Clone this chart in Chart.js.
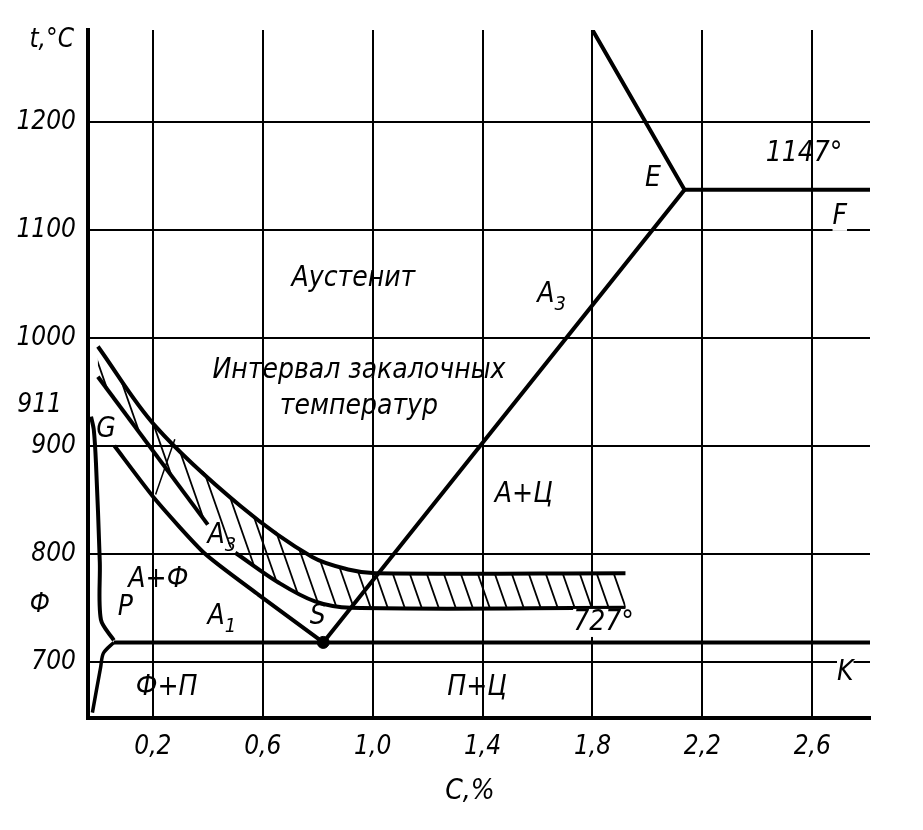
<!DOCTYPE html>
<html>
<head>
<meta charset="utf-8">
<script src="https://cdn.jsdelivr.net/npm/chart.js@4"></script>
<style>
  body { margin: 0; background: #fff; }
  canvas { display: block; }
</style>
</head>
<body>
<canvas id="feC" width="923" height="830"></canvas>
<script>
// Fe-C diagram, steel corner (carbon %, temperature °C)
const xTicks = [0.2, 0.6, 1.0, 1.4, 1.8, 2.2, 2.6];
const yTicks = [700, 800, 900, 1000, 1100, 1200];

// upper bound of quench interval
const upperC = [0, 0.21, 0.52, 0.78, 0.92, 1.01, 1.92];
const upperT = [992, 918, 844, 797, 785, 782, 782];
// A3 pointer segment
const pointerC = [0, 0.40];
const pointerT = [964, 827];
// lower bound of quench interval
const lowerC = [0.50, 0.66, 0.79, 0.92, 1.92];
const lowerT = [801, 773, 756, 750, 750];
// GS line (A3)
const gsC = [0.06, 0.21, 0.39, 0.585, 0.82];
const gsT = [900, 850, 800, 762, 718];
// GP line and PQ line
const gpC = [-0.025, -0.015, -0.007, 0.007, 0.011, 0.058];
const gpT = [927, 915, 884, 792, 739, 720];
const pqC = [0.058, 0.02, 0.01, -0.02];
const pqT = [718, 708, 695, 653];
// PSK line
const pskC = [0.058, 2.81];
const pskT = [718, 718];
// SE line (Acm) and liquidus part
const seC = [0.82, 2.135, 1.80];
const seT = [718, 1137, 1285];
const efC = [2.135, 2.81];
const efT = [1137, 1137];
// text pointer
const noteC = [0.28, 0.21];
const noteT = [906, 855];

const pts = (cs, ts) => cs.map((c, i) => ({x: c, y: ts[i]}));

const labels = [
  {t: 'Аустенит', c: 0.93, y: 1055},
  {t: 'Интервал закалочных', c: 0.95, y: 970},
  {t: 'температур', c: 0.95, y: 936},
  {t: 'A', s: '3', c: 1.63, y: 1040},
  {t: 'A+Ц', c: 1.55, y: 855},
  {t: 'E', c: 2.02, y: 1147},
  {t: '1147°', c: 2.57, y: 1170},
  {t: 'F', c: 2.70, y: 1112},
  {t: 'G', c: 0.03, y: 915},
  {t: 'A', s: '3', c: 0.43, y: 817},
  {t: 'A+Ф', c: 0.22, y: 776},
  {t: 'P', c: 0.1, y: 750},
  {t: 'A', s: '1', c: 0.43, y: 742},
  {t: 'S', c: 0.80, y: 742},
  {t: '727°', c: 1.84, y: 736},
  {t: 'Ф+П', c: 0.25, y: 676},
  {t: 'П+Ц', c: 1.38, y: 676},
  {t: 'K', c: 2.72, y: 690}
];

const FONT = '"DejaVu Sans Condensed", "DejaVu Sans"';

const hatchPlugin = {
  id: 'hatch',
  beforeDatasetsDraw(chart) {
    const {ctx, scales: {x, y}} = chart;
    const top = pts(upperC, upperT);
    const bottom = pts(pointerC, pointerT).concat(pts(lowerC, lowerT)).reverse();
    ctx.save();
    ctx.beginPath();
    top.concat(bottom).forEach((p, i) => {
      const px = x.getPixelForValue(p.x), py = y.getPixelForValue(p.y);
      i ? ctx.lineTo(px, py) : ctx.moveTo(px, py);
    });
    ctx.closePath();
    ctx.clip();
    ctx.strokeStyle = '#000';
    ctx.lineWidth = 1.8;
    for (let s = -400; s < 1000; s += 17) {
      ctx.beginPath();
      ctx.moveTo(s, 300);
      ctx.lineTo(s + 140, 700);
      ctx.stroke();
    }
    ctx.restore();
  }
};

const textPlugin = {
  id: 'texts',
  afterDatasetsDraw(chart) {
    const {ctx, scales: {x, y}} = chart;
    ctx.save();
    ctx.textBaseline = 'middle';
    labels.forEach(l => {
      const px = x.getPixelForValue(l.c), py = y.getPixelForValue(l.y);
      ctx.font = 'italic 28px ' + FONT;
      const w = ctx.measureText(l.t).width;
      if (l.t === '727°' || l.t === 'K' || l.t === 'F') {
        ctx.fillStyle = '#fff';
        ctx.fillRect(px - w / 2, py - 14, w, 28);
      }
      ctx.fillStyle = '#000';
      ctx.textAlign = 'center';
      ctx.fillText(l.t, px, py);
      if (l.s) {
        ctx.font = 'italic 20px ' + FONT;
        ctx.textAlign = 'left';
        ctx.fillText(l.s, px + w / 2, py + 10);
      }
    });
    // axis annotations
    ctx.font = 'italic 26px ' + FONT;
    ctx.textAlign = 'right';
    ctx.fillText('911', 62, y.getPixelForValue(938));
    ctx.fillText('Ф', 50, y.getPixelForValue(752));
    ctx.fillText('t,°C', 74, 40);
    ctx.textAlign = 'center';
    ctx.font = 'italic 28px ' + FONT;
    ctx.fillText('C,%', 470, 792);
    ctx.restore();
  }
};

const line = (cs, ts, w, tension) => ({
  data: pts(cs, ts),
  borderColor: '#000',
  borderWidth: w,
  pointRadius: 0,
  tension: tension,
  fill: false
});

const sDot = {
  data: [{x: 0.82, y: 718}],
  showLine: false,
  pointRadius: 6,
  pointBackgroundColor: '#000',
  pointBorderColor: '#000'
};

new Chart(document.getElementById('feC').getContext('2d'), {
  type: 'line',
  data: {
    datasets: [
      line(upperC, upperT, 4, 0.35),
      line(pointerC, pointerT, 4, 0),
      line(lowerC, lowerT, 4, 0.35),
      line(gsC, gsT, 4, 0.2),
      line(gpC, gpT, 4, 0.3),
      line(pqC, pqT, 3.5, 0.3),
      line(pskC, pskT, 4, 0),
      line(seC, seT, 4, 0),
      line(efC, efT, 4, 0),
      line(noteC, noteT, 1.5, 0),
      sDot
    ]
  },
  options: {
    responsive: false,
    animation: false,
    layout: {padding: {top: 30, right: 53, left: 0, bottom: 0}},
    plugins: {legend: {display: false}, tooltip: {enabled: false}},
    scales: {
      x: {
        type: 'linear',
        min: -0.036,
        max: 2.81,
        afterBuildTicks: s => { s.ticks = xTicks.map(v => ({value: v})); },
        afterFit: s => { s.height = 112; },
        grid: {color: '#000', lineWidth: 2, drawTicks: false},
        border: {color: '#000', width: 4},
        ticks: {
          color: '#000',
          padding: 14,
          font: {family: FONT, style: 'italic', size: 26},
          callback: v => v.toFixed(1).replace('.', ',')
        }
      },
      y: {
        min: 648,
        max: 1285,
        afterBuildTicks: s => { s.ticks = yTicks.map(v => ({value: v})); },
        afterFit: s => { s.width = 88; },
        grid: {color: '#000', lineWidth: 2, drawTicks: false},
        border: {color: '#000', width: 4},
        ticks: {
          color: '#000',
          padding: 12,
          font: {family: FONT, style: 'italic', size: 26},
          callback: v => String(v)
        }
      }
    }
  },
  plugins: [hatchPlugin, textPlugin]
});
</script>
</body>
</html>
